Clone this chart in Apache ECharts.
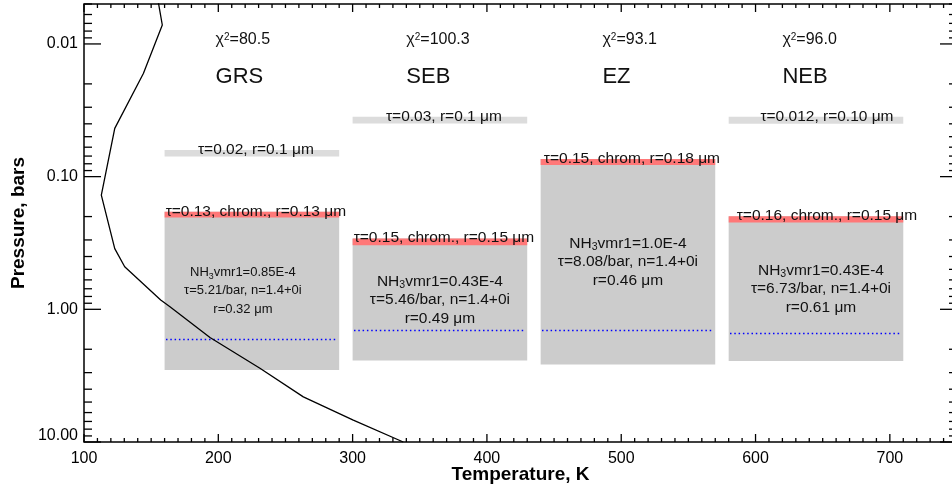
<!DOCTYPE html>
<html>
<head>
<meta charset="utf-8">
<script src="https://cdn.jsdelivr.net/npm/echarts@6/dist/echarts.min.js"></script>
<style>
html, body { margin: 0; padding: 0; background: #fff; }
#chart { width: 952px; height: 491px; }
</style>
</head>
<body>
<div id="chart"></div>
<script>
// cloud model per region
var regions = ['GRS', 'SEB', 'EZ', 'NEB'];
var chi2 = ['80.5', '100.3', '93.1', '96.0'];
var tempLeft = [160, 300, 440, 580];
var tempRight = [290, 430, 570, 710];

// upper haze, bars
var hazeTop = [0.063, 0.0354, null, 0.0354];
var hazeBottom = [0.0706, 0.0397, null, 0.0400];
var hazeText = ['τ=0.02, r=0.1 μm', 'τ=0.03, r=0.1 μm', '', 'τ=0.012, r=0.10 μm'];

// chromophore layer, bars
var chromTop = [0.184, 0.293, 0.0736, 0.199];
var chromBottom = [0.203, 0.329, 0.0817, 0.222];
var chromText = ['τ=0.13, chrom., r=0.13 μm', 'τ=0.15, chrom., r=0.15 μm',
                 'τ=0.15, chrom, r=0.18 μm', 'τ=0.16, chrom., r=0.15 μm'];

// main cloud
var cloudBase = [2.87, 2.43, 2.61, 2.45];
var condLevel = [1.66, 1.43, 1.43, 1.52];
var nh3Vmr = ['0.85E-4', '0.43E-4', '1.0E-4', '0.43E-4'];
var tauPerBar = ['5.21', '5.46', '8.08', '6.73'];
var refrIndex = ['1.4+0i', '1.4+0i', '1.4+0i', '1.4+0i'];
var radius = ['0.32', '0.49', '0.46', '0.61'];

// temperature profile
var profileT = [155.1, 158.3, 144.2, 122.9, 112.9, 122.9, 130.3, 157.1, 164.0, 193.8, 231.0, 263.3, 300.5, 337.7];
var profileP = [0.0047, 0.0072, 0.0167, 0.0433, 0.138, 0.349, 0.478, 0.852, 0.958, 1.63, 2.78, 4.57, 6.85, 10.0];

// tick values
var xMajor = [100, 200, 300, 400, 500, 600, 700];
var yMajor = [0.01, 0.1, 1, 10];

// layout bits (not data)
var headerT = [198, 340, 486, 620];
var labelShift = [4, 4, 4, 11];
var innerShift = [-9, 0, 0, 5];
var innerSize = [13, 15.5, 15.5, 15.5];
var FONT = 'Liberation Sans, Arial, Helvetica, sans-serif';
var INK = '#111';

var ticks = [];
for (var t = 100; t <= 750; t += 10) ticks.push([t, 1, xMajor.indexOf(t) >= 0 ? 0 : 1]);
[0.001, 0.01, 0.1, 1].forEach(function (d) {
    for (var k = 2; k <= 9; k++) {
        var p = d * k;
        if (p >= 0.005 && p <= 10) ticks.push([100, p, 3]);
    }
});
yMajor.forEach(function (p) { ticks.push([100, p, 2]); });

function renderTick(params, api) {
    var cs = params.coordSys;
    var kind = api.value(2);
    var st = { stroke: '#000', lineWidth: 1.3 };
    if (kind < 2) {
        var x = api.coord([api.value(0), 1])[0];
        var len = kind === 0 ? 8 : 4;
        var yb = cs.y + cs.height, yt = cs.y;
        return { type: 'group', children: [
            { type: 'line', shape: { x1: x, y1: yb, x2: x, y2: yb - len }, style: st },
            { type: 'line', shape: { x1: x, y1: yt, x2: x, y2: yt + len }, style: st }
        ] };
    }
    var y = api.coord([100, api.value(1)])[1];
    var l = kind === 2 ? 17 : 8;
    var xl = cs.x, xr = cs.x + cs.width;
    return { type: 'group', children: [
        { type: 'line', shape: { x1: xl, y1: y, x2: xl + l, y2: y }, style: st },
        { type: 'line', shape: { x1: xr, y1: y, x2: xr - l, y2: y }, style: st }
    ] };
}

function renderColumn(params, api) {
    var cs = params.coordSys;
    var i = api.value(2);
    var x0 = api.coord([tempLeft[i], 1])[0];
    var x1 = api.coord([tempRight[i], 1])[0];
    var xc = (x0 + x1) / 2;
    var py = function (p) { return api.coord([tempLeft[i], p])[1]; };
    var kids = [];

    kids.push({ type: 'rect', shape: { x: x0, y: py(chromTop[i]), width: x1 - x0, height: py(cloudBase[i]) - py(chromTop[i]) },
        style: { fill: '#cccccc' } });
    kids.push({ type: 'rect', shape: { x: x0, y: py(chromTop[i]), width: x1 - x0, height: py(chromBottom[i]) - py(chromTop[i]) },
        style: { fill: '#ff7878' } });
    if (hazeTop[i] !== null) {
        kids.push({ type: 'rect', shape: { x: x0, y: py(hazeTop[i]), width: x1 - x0, height: py(hazeBottom[i]) - py(hazeTop[i]) },
            style: { fill: '#dcdcdc' } });
        kids.push({ type: 'text', x: xc + labelShift[i], y: py(hazeTop[i]) - 0.5,
            style: { text: hazeText[i], fill: INK, fontSize: 15.5, fontFamily: FONT, align: 'center', verticalAlign: 'middle' } });
    }
    kids.push({ type: 'text', x: xc + labelShift[i], y: py(chromTop[i]) - 0.5,
        style: { text: chromText[i], fill: INK, fontSize: 15.5, fontFamily: FONT, align: 'center', verticalAlign: 'middle' } });

    // condensation level, blue dots
    var yl = Math.round(py(condLevel[i])) + 0.5;
    kids.push({ type: 'line', shape: { x1: Math.round(x0) + 1, y1: yl, x2: Math.round(x1) - 1, y2: yl },
        style: { stroke: '#0000ff', lineWidth: 1.3, lineDash: [1.5, 2.8] } });

    var fs = innerSize[i];
    var body = 'NH{sub|3}vmr1=' + nh3Vmr[i] + '\nτ=' + tauPerBar[i] + '/bar, n=' + refrIndex[i] + '\nr=' + radius[i] + ' μm';
    kids.push({ type: 'text', x: xc + innerShift[i], y: (py(chromBottom[i]) + py(cloudBase[i])) / 2 - 3,
        style: { text: body, fill: INK, fontSize: fs, fontFamily: FONT, lineHeight: 18.5,
            align: 'center', verticalAlign: 'middle',
            rich: { sub: { fontSize: fs * 0.68, fontFamily: FONT, fill: INK, verticalAlign: 'bottom', lineHeight: 18.5 } } } });

    var hx = api.coord([headerT[i], 1])[0];
    kids.push({ type: 'text', x: hx, y: cs.y + 36,
        style: { text: 'χ{sup|2}=' + chi2[i], fill: INK, fontSize: 16, fontFamily: FONT, align: 'left', verticalAlign: 'middle',
            rich: { sup: { fontSize: 10, fontFamily: FONT, fill: INK, verticalAlign: 'top' } } } });
    kids.push({ type: 'text', x: hx, y: cs.y + 73,
        style: { text: regions[i], fill: INK, fontSize: 22, fontFamily: FONT, align: 'left', verticalAlign: 'middle' } });

    return { type: 'group', children: kids };
}

var chart = echarts.init(document.getElementById('chart'), null, { renderer: 'canvas' });
chart.setOption({
    animation: false,
    backgroundColor: '#fff',
    textStyle: { fontFamily: FONT },
    grid: { left: 84, right: -5, top: 4, bottom: 49, show: true, borderColor: '#000', borderWidth: 1.5,
        containLabel: false, outerBoundsMode: 'none' },
    xAxis: {
        type: 'value', min: 100, max: 750, interval: 100,
        name: 'Temperature, K', nameLocation: 'middle', nameGap: 23, nameMoveOverlap: false,
        nameTextStyle: { fontSize: 19, fontWeight: 'bold', color: '#000', fontFamily: FONT },
        axisLine: { show: false }, axisTick: { show: false }, splitLine: { show: false },
        axisLabel: { fontSize: 16, color: '#000', margin: 9, showMaxLabel: false, fontFamily: FONT }
    },
    yAxis: {
        type: 'log', logBase: 10, min: 0.005, max: 10, inverse: true,
        name: 'Pressure, bars', nameLocation: 'middle', nameGap: 56, nameMoveOverlap: false,
        nameTextStyle: { fontSize: 19, fontWeight: 'bold', color: '#000', fontFamily: FONT },
        axisLine: { show: false }, axisTick: { show: false }, splitLine: { show: false },
        axisLabel: {
            fontSize: 16, color: '#000', margin: 6, fontFamily: FONT,
            showMinLabel: false,
            formatter: function (v) {
                var e = Math.log10(v);
                if (Math.abs(e - Math.round(e)) > 1e-6) return '';
                var s = Math.pow(10, Math.round(e)).toFixed(2);
                return Math.round(e) === 1 ? '{up|' + s + '}' : s;
            },
            rich: { up: { fontSize: 16, color: '#000', fontFamily: FONT, padding: [0, 0, 12, 0] } }
        }
    },
    series: [
        {
            type: 'custom', name: 'clouds', renderItem: renderColumn, z: 2,
            data: regions.map(function (r, i) { return [tempLeft[i], cloudBase[i], i]; })
        },
        {
            type: 'line', name: 'profile', z: 5, showSymbol: false, symbol: 'none',
            lineStyle: { color: '#000', width: 1.3 },
            data: profileT.map(function (t, i) { return [t, profileP[i]]; })
        },
        {
            type: 'custom', name: 'ticks', renderItem: renderTick, z: 6, silent: true,
            data: ticks
        }
    ]
});
</script>
</body>
</html>
